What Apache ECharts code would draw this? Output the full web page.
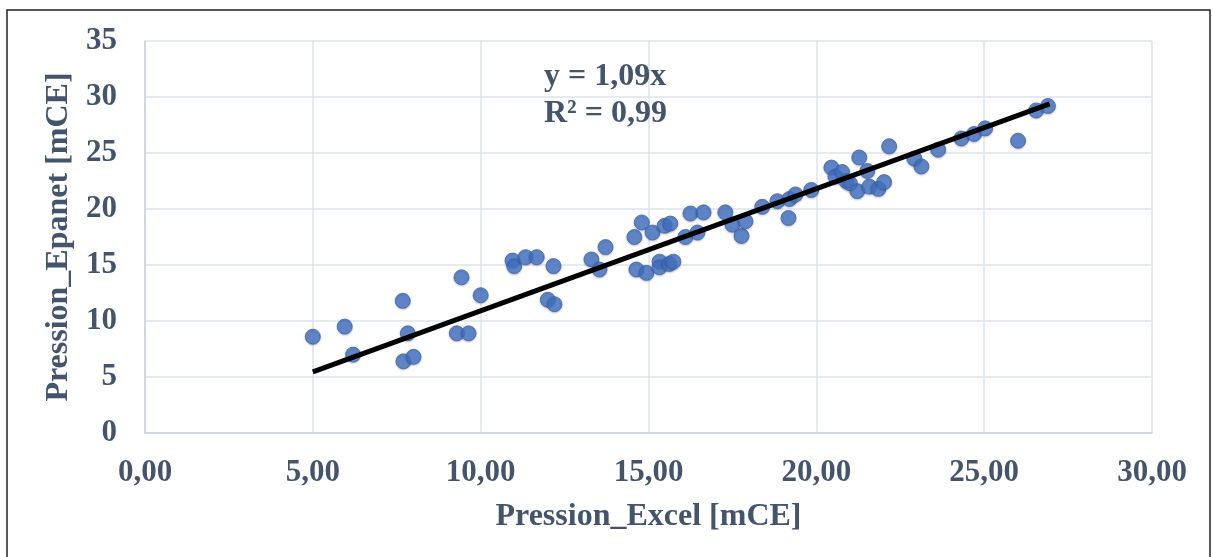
<!DOCTYPE html>
<html>
<head>
<meta charset="utf-8">
<script src="https://cdn.jsdelivr.net/npm/echarts@6/dist/echarts.min.js"></script>
<style>
  html, body { margin: 0; padding: 0; background: #fff; }
  #chart { width: 1213px; height: 557px; }
</style>
</head>
<body>
<div id="chart"></div>
<script>
// Pression Excel (x) vs Pression Epanet (y)
const excelValues = [
  5.00, 5.95, 6.20, 7.68, 7.70, 7.83, 8.00, 9.29, 9.43, 9.64,
  10.00, 10.95, 11.00, 11.34, 11.67, 12.00, 12.20, 12.17, 13.30, 13.54,
  13.72, 14.58, 14.64, 14.80, 14.94, 15.12, 15.33, 15.33, 15.48, 15.65,
  15.62, 15.74, 16.10, 16.25, 16.46, 16.64, 17.29, 17.50, 17.77, 17.89,
  18.39, 18.84, 19.17, 19.20, 19.38, 19.85, 20.45, 20.57, 20.77, 20.89,
  21.00, 21.28, 21.22, 21.52, 21.58, 21.85, 22.02, 22.17, 22.92, 23.13,
  23.63, 24.32, 24.70, 25.03, 26.01, 26.55, 26.90
]
const epanetValues = [
  8.6, 9.5, 7.0, 11.8, 6.4, 8.9, 6.8, 8.9, 13.9, 8.9,
  12.3, 15.4, 14.9, 15.7, 15.7, 11.9, 11.5, 14.9, 15.5, 14.6,
  16.6, 17.5, 14.6, 18.8, 14.3, 17.9, 15.3, 14.8, 18.5, 18.7,
  15.1, 15.3, 17.5, 19.6, 17.9, 19.7, 19.7, 18.6, 17.6, 18.9,
  20.2, 20.7, 19.2, 20.9, 21.3, 21.7, 23.7, 22.9, 23.3, 22.5,
  22.3, 24.6, 21.6, 23.4, 22.0, 21.8, 22.4, 25.6, 24.5, 23.8,
  25.3, 26.3, 26.7, 27.2, 26.1, 28.8, 29.2
]
// trendline end points (y = 1,09x)
const trendX = [5.0, 26.95]
const trendY = [5.45, 29.38]
const equationLines = ['y = 1,09x', 'R² = 0,99']

const textColor = '#44546A'
const fontFam = '"Liberation Serif", "Times New Roman", serif'

const points = excelValues.map((x, i) => [x, epanetValues[i]])
const trend = trendX.map((x, i) => [x, trendY[i]])

const chart = echarts.init(document.getElementById('chart'))
chart.setOption({
  animation: false,
  backgroundColor: '#fff',
  grid: { left: 145, right: 61, top: 41, bottom: 124 },
  graphic: [
    {
      type: 'rect',
      shape: { x: 7, y: 10, width: 1203, height: 580 },
      style: { fill: 'none', stroke: '#222', lineWidth: 1.5 },
      silent: true
    },
    {
      type: 'text',
      left: 544,
      top: 58,
      style: {
        text: equationLines.join('\n'),
        fill: textColor,
        font: 'bold 32px ' + fontFam,
        lineHeight: 37
      },
      z: 10
    }
  ],
  xAxis: {
    type: 'value',
    min: 0,
    max: 30,
    interval: 5,
    name: 'Pression_Excel [mCE]',
    nameLocation: 'middle',
    nameGap: 68,
    nameTextStyle: { color: textColor, fontFamily: fontFam, fontWeight: 'bold', fontSize: 32 },
    axisLine: { show: true, lineStyle: { color: '#c8d1de', width: 1.5 } },
    axisTick: { show: false },
    axisLabel: {
      color: textColor, fontFamily: fontFam, fontWeight: 'bold', fontSize: 31, margin: 24,
      formatter: v => v.toFixed(2).replace('.', ',')
    },
    splitLine: { show: true, lineStyle: { color: '#dde3eb', width: 1.5 } }
  },
  yAxis: {
    type: 'value',
    min: 0,
    max: 35,
    interval: 5,
    name: 'Pression_Epanet [mCE]',
    nameLocation: 'middle',
    nameGap: 68,
    nameTextStyle: { color: textColor, fontFamily: fontFam, fontWeight: 'bold', fontSize: 32 },
    axisLine: { show: true, lineStyle: { color: '#c8d1de', width: 1.5 } },
    axisTick: { show: false },
    axisLabel: { color: textColor, fontFamily: fontFam, fontWeight: 'bold', fontSize: 31, margin: 28 },
    splitLine: { show: true, lineStyle: { color: '#dde3eb', width: 1.5 } }
  },
  series: [
    {
      type: 'scatter',
      data: points,
      symbolSize: 15,
      itemStyle: {
        color: '#4472C4',
        borderColor: '#3b66b3',
        borderWidth: 1,
        shadowBlur: 2,
        shadowColor: 'rgba(0,0,0,0.25)',
        shadowOffsetY: 1
      },
      z: 2
    },
    {
      type: 'line',
      data: trend,
      symbol: 'none',
      lineStyle: { color: '#000', width: 5 },
      z: 3
    }
  ]
})
</script>
</body>
</html>
